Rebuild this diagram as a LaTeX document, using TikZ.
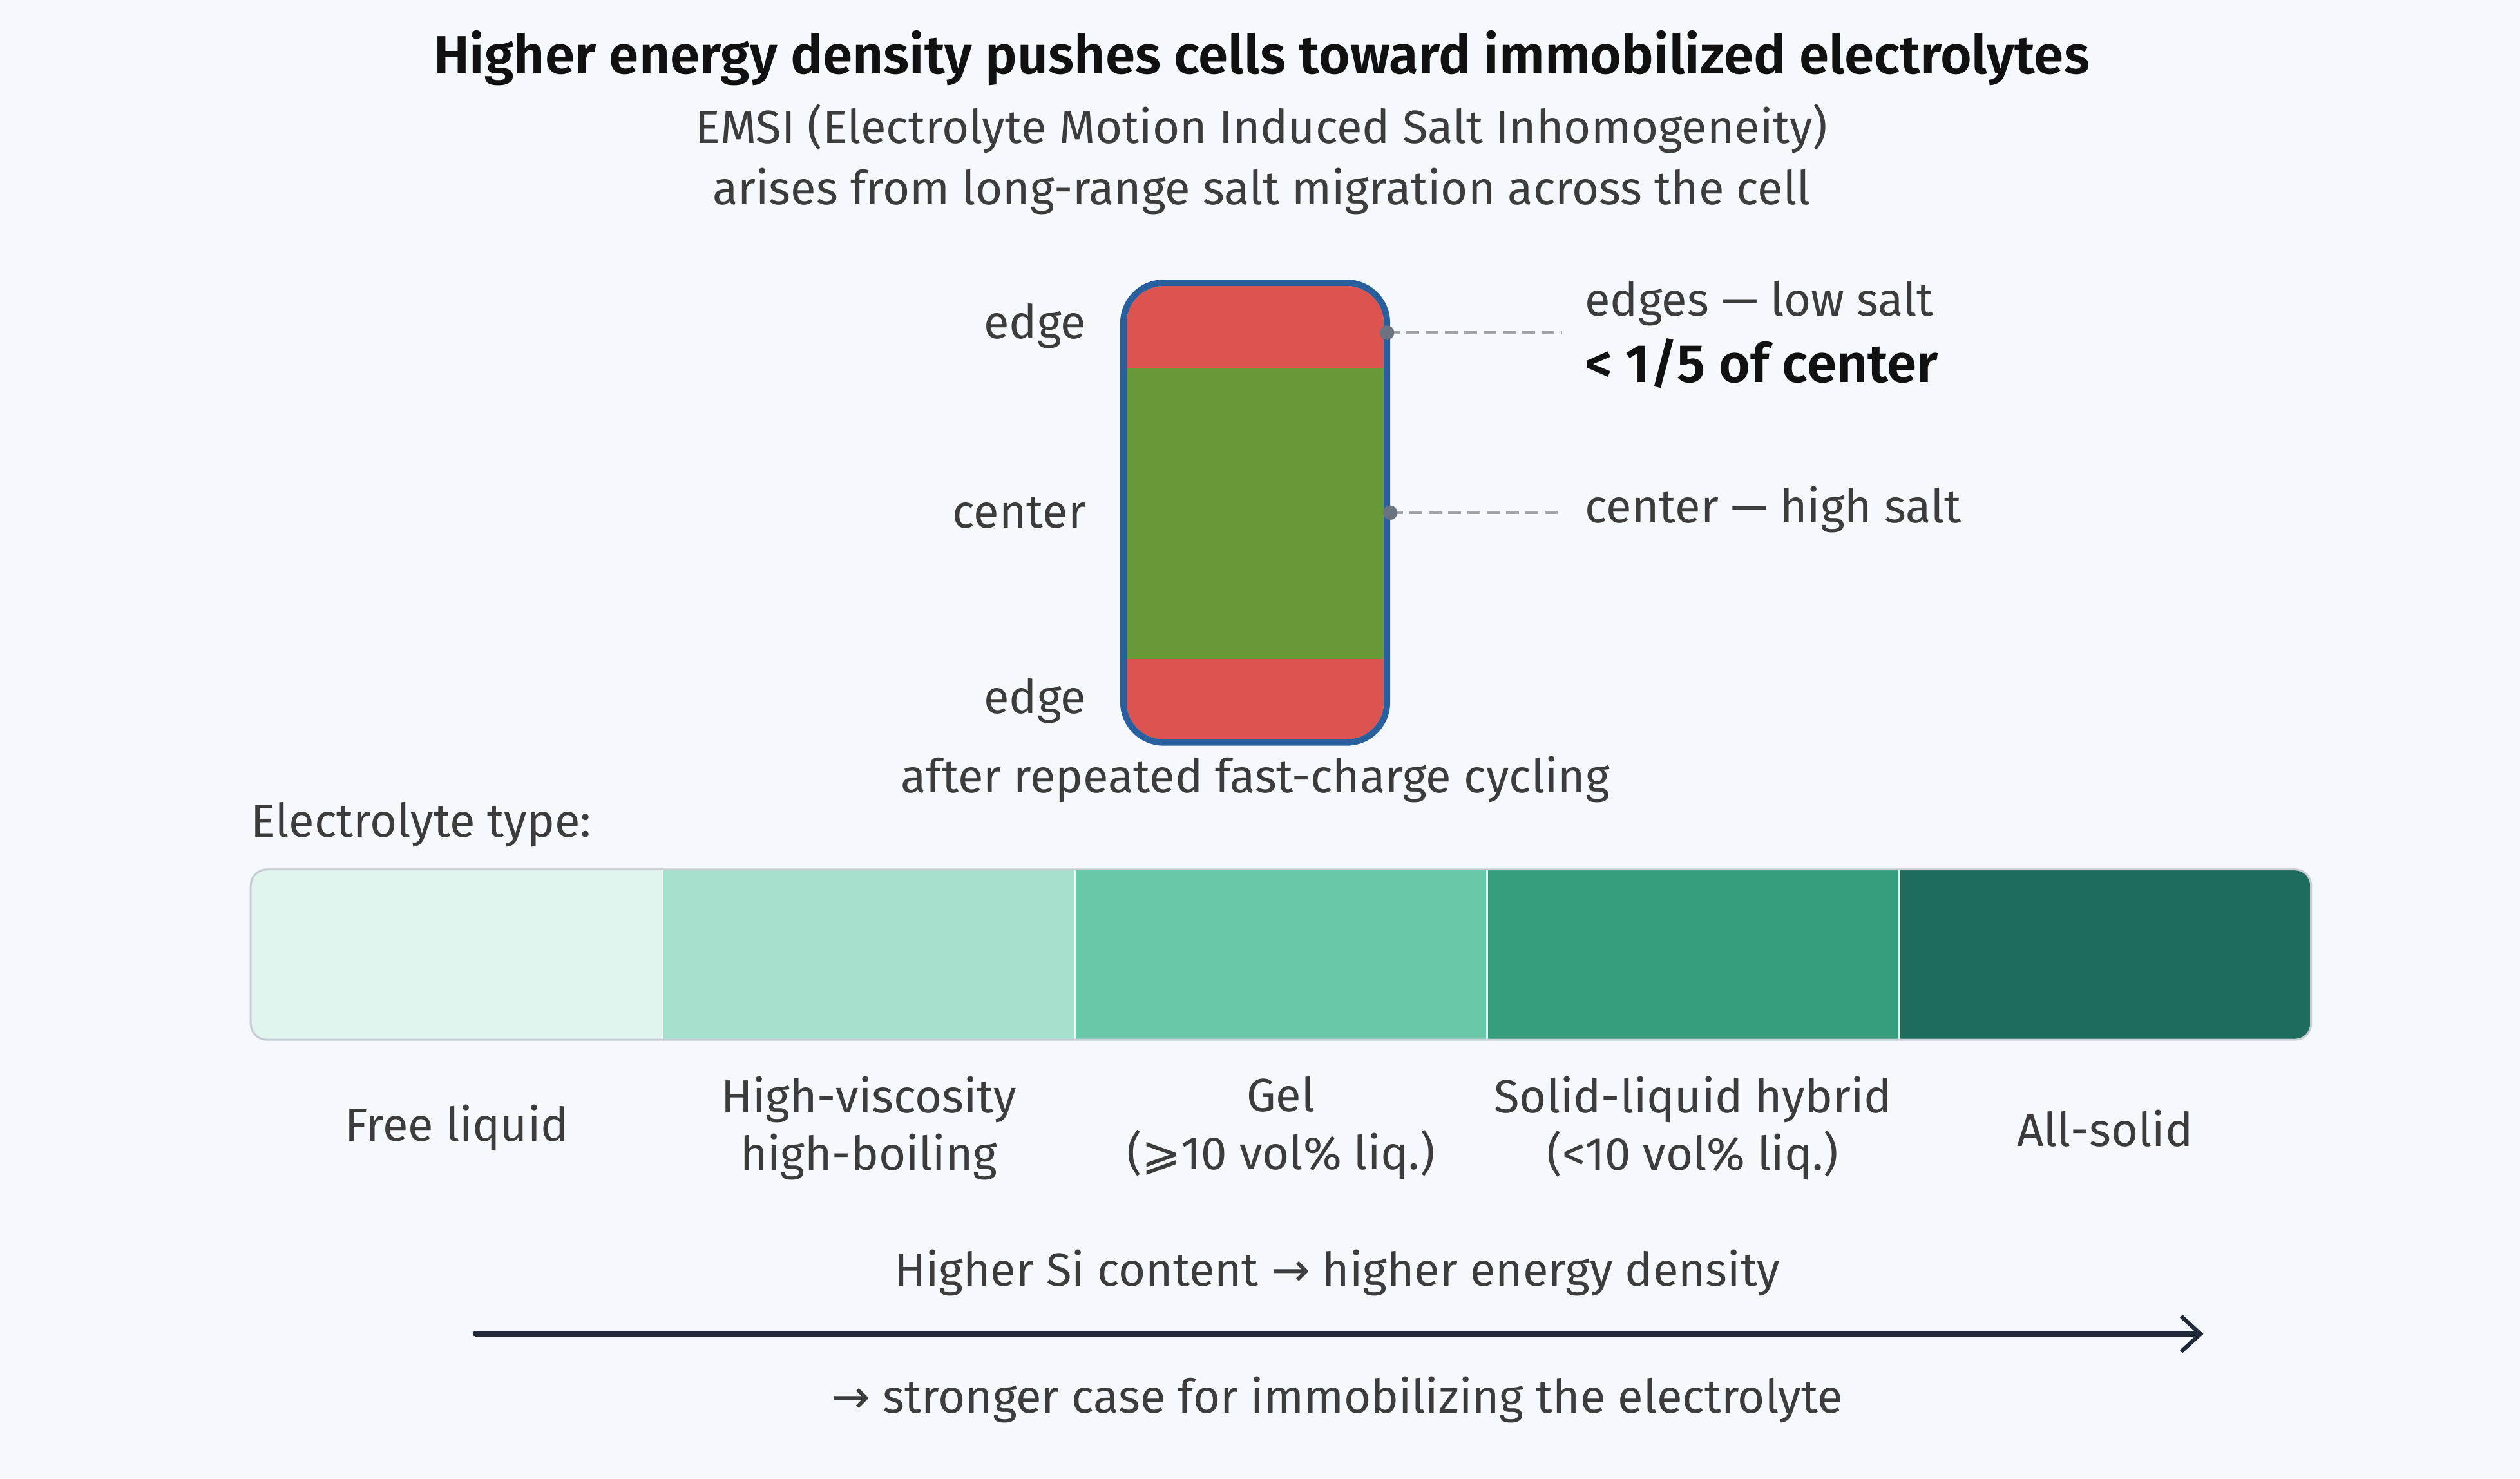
\documentclass[tikz,border=0pt]{standalone}
\usepackage{fontspec}
\setmainfont{Fira Sans}[Ligatures=NoCommon]
\newfontfamily\semifont{Fira Sans SemiBold}[Ligatures=NoCommon]
\newfontfamily\symfont{DejaVu Sans}
\usetikzlibrary{arrows.meta}
\definecolor{bgcol}{HTML}{F5F8FC}
\definecolor{titlecol}{HTML}{111111}
\definecolor{textcol}{HTML}{3C3C3C}
\definecolor{edgered}{HTML}{DD5350}
\definecolor{centgreen}{HTML}{679A37}
\definecolor{cellblue}{HTML}{2A5F9E}
\definecolor{dotcol}{HTML}{6B7280}
\definecolor{dashcol}{HTML}{A0A4AB}
\definecolor{barline}{HTML}{C5CCD3}
\definecolor{arrowcol}{HTML}{1F2937}
\definecolor{segA}{HTML}{E1F5EE}
\definecolor{segB}{HTML}{A5E1CC}
\definecolor{segC}{HTML}{67C9A7}
\definecolor{segD}{HTML}{349D7B}
\definecolor{segE}{HTML}{1E6C5A}
\tikzset{
  txt/.style={text=textcol, inner sep=0pt},
  leader/.style={dashcol, dash pattern=on 8pt off 4pt, line width=2pt, line cap=butt},
  segbox/.style={draw=white!85!barline, line width=1.2pt, inner sep=0pt, outer sep=0pt,
    minimum width=256.4pt, minimum height=106pt},
  seglabel/.style={txt, align=center, font=\fontsize{29}{36}\selectfont}
}
\begin{document}
\begin{tikzpicture}[x=1pt, y=-1pt, font=\fontsize{29}{36}\selectfont, line join=round, line cap=round]
\fill[bgcol] (0,0) rectangle (1568,920);
\useasboundingbox (0,0) rectangle (1568,920);
% heading
\node[txt, text=titlecol, font=\semifont\fontsize{33.5}{36}\selectfont] (title) at (785,36) {Higher energy density pushes cells toward immobilized electrolytes};
\node[txt, align=center, font=\fontsize{29}{38}\selectfont] (subtitle) at (785,99) {EMSI (Electrolyte Motion Induced Salt Inhomogeneity)\\arises from long-range salt migration across the cell};
% cell after cycling
\begin{scope}
  \clip[rounded corners=23pt] (701,178) rectangle (861,460);
  \fill[edgered] (701,178) rectangle (861,229);
  \fill[centgreen] (701,229) rectangle (861,410);
  \fill[edgered] (701,410) rectangle (861,460);
\end{scope}
\node[draw=cellblue, line width=4pt, rounded corners=25pt, inner sep=0pt,
  minimum width=164pt, minimum height=286pt] (cell) at (781,319) {};
\node[txt, anchor=east] (edgetop) at (676,203) {edge};
\node[txt, anchor=east] (centlbl) at (676,319) {center};
\node[txt, anchor=east] (edgebot) at (676,436) {edge};
\node[txt] (cycling) at (781,485) {after repeated fast-charge cycling};
\coordinate (topdot) at (863,207);
\coordinate (middot) at (cell.east);
\coordinate (topend) at (972,207);
\coordinate (midend) at (972,319);
\draw[leader] (topdot) -- (topend);
\draw[leader] (middot) -- (midend);
\fill[dotcol] (topdot) circle(4.5pt);
\fill[dotcol] (middot) circle(4.5pt);
\node[txt, anchor=west] (lowsalt) at (986,189) {edges — low salt};
\node[txt, anchor=west, text=titlecol, font=\semifont\fontsize{33.5}{36}\selectfont] (ratio) at (986,226) {< 1/5 of center};
\node[txt, anchor=west] (highsalt) at (986,317) {center — high salt};
% electrolyte scale
\node[txt, anchor=west] (typelbl) at (156,513) {Electrolyte type:};
\begin{scope}
  \clip[rounded corners=10pt] (156,541) rectangle (1438,647);
  \foreach \col [count=\i] in {segA, segB, segC, segD, segE}
    \node[segbox, fill=\col] (seg\i) at (156+256.4*\i-128.2, 594) {};
\end{scope}
\draw[barline, line width=1.2pt, rounded corners=10pt] (156,541) rectangle (1438,647);
\foreach \name [count=\i] in {{Free liquid}, {High-viscosity\\high-boiling},
    {Gel\\({\symfont ⩾}10 vol\% liq.)}, {Solid-liquid hybrid\\(<10 vol\% liq.)}, {All-solid}}
  \node[seglabel] (lab\i) at ([yshift=-108pt]seg\i.center) {\name};
% trend arrow
\node[txt] (trendtop) at (832,792) {Higher Si content {\symfont →} higher energy density};
\coordinate (arrstart) at (296,830);
\coordinate (arrend) at (1371,830);
\draw[arrowcol, line width=3.5pt, -{Straight Barb[length=12pt, width=22pt, line width=2.5pt]}] (arrstart) -- (arrend);
\node[txt] (trendbot) at (832,871) {{\symfont →} stronger case for immobilizing the electrolyte};
\end{tikzpicture}
\end{document}
